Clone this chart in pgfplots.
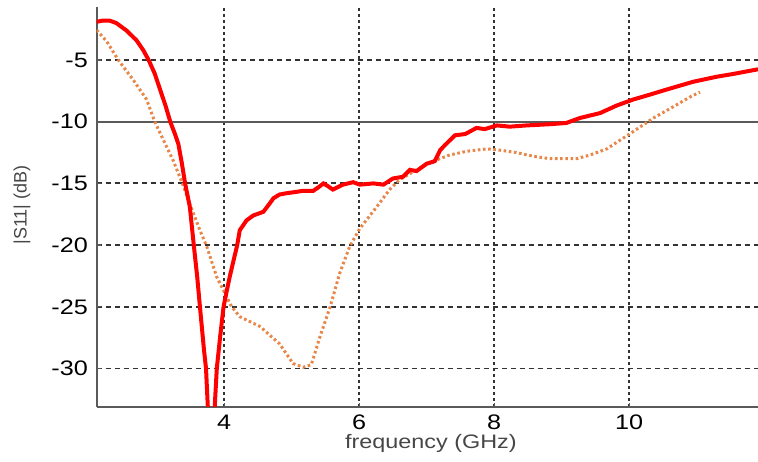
\documentclass[border=0pt]{standalone}
\usepackage{fontspec}
\setmainfont{Liberation Sans}
\newfontfamily\stretched{Liberation Sans}[FakeStretch=1.2]
\usepackage{pgfplots}
\pgfplotsset{compat=1.18}
\definecolor{redline}{RGB}{255,0,0}
\definecolor{orangeline}{RGB}{232,135,74}
\definecolor{axgray}{RGB}{90,90,90}
\definecolor{labgray}{RGB}{70,70,70}
\begin{document}
\begin{tikzpicture}
\useasboundingbox (-96.7pt,-54.3pt) rectangle (661.3pt,406.7pt);
\begin{axis}[at={(0pt,0pt)}, anchor=south west, scale only axis,
  width=661.3pt, height=399.7pt,
  xmin=2.11, xmax=11.91, ymin=-33.1, ymax=-0.7,
  axis x line*=bottom, axis y line*=left,
  axis line style={axgray, line width=2.2pt, -},
  xtick={4,6,8,10}, ytick={-30,-25,-20,-15,-10,-5},
  tick style={axgray, line width=1.2pt}, major tick length=4pt, tick align=inside,
  grid=major,
  x grid style={black!80, line width=1.9pt, dash pattern=on 2.5pt off 3.5pt},
  y grid style={black!80, line width=1.9pt, dash pattern=on 5pt off 4pt},
  /pgf/number format/assume math mode=true,
  ticklabel style={font=\stretched\fontsize{21}{21}\selectfont, text=black},
  xticklabel style={anchor=north, inner sep=0pt, yshift=-8pt},
  yticklabel style={anchor=east, inner sep=0pt, xshift=-8.7pt},
  xlabel={frequency (GHz)},
  xlabel style={font=\stretched\fontsize{19.5}{19.5}\selectfont, text=labgray,
    at={(axis description cs:0.5,0)}, anchor=base, inner sep=0pt, yshift=-42pt, xshift=3.5pt},
  ylabel={|S11| (dB)},
  ylabel style={font=\fontsize{18}{18}\selectfont, text=labgray,
    at={(axis description cs:0,0.5)}, anchor=center, inner sep=0pt, xshift=2pt, yshift=74.7pt},
]
\addplot[axgray, line width=2.2pt] coordinates {(2.11,-10) (11.91,-10)};
\addplot[orangeline, line width=3pt, dash pattern=on 2.6pt off 2.6pt] coordinates {
(2.11,-2.57)(2.26,-3.5)(2.43,-5)(2.65,-6.6)(2.85,-8.2)(2.97,-10)(3.10,-11.5)(3.24,-13.1)
(3.38,-15)(3.50,-16.8)(3.64,-18.8)(3.74,-20.1)(3.89,-22.6)(4.01,-23.9)(4.11,-25)(4.23,-25.8)
(4.53,-26.6)(4.82,-28)(5.02,-29.6)(5.17,-29.9)(5.29,-29.7)(5.42,-27.4)(5.57,-25)(5.71,-22.3)
(5.86,-20.1)(6.01,-18.65)(6.26,-16.9)(6.45,-15.5)(6.60,-14.7)(6.85,-13.9)(7.1,-13.2)(7.34,-12.7)
(7.59,-12.4)(7.89,-12.2)(8.08,-12.3)(8.33,-12.5)(8.58,-12.8)(8.83,-13.0)(9.22,-13.0)(9.42,-12.7)
(9.67,-12.2)(10.06,-10.8)(10.36,-9.7)(10.65,-8.8)(10.90,-8.0)(11.05,-7.6)};
\addplot[redline, line width=4pt] coordinates {
(2.11,-1.9)(2.2,-1.8)(2.3,-1.8)(2.4,-2.0)(2.55,-2.6)(2.70,-3.4)(2.80,-4.2)(2.88,-5.0)
(2.97,-6.1)(3.05,-7.4)(3.13,-8.7)(3.20,-10)(3.27,-11.0)(3.32,-11.8)(3.37,-13.3)(3.42,-15)
(3.49,-16.9)(3.55,-20.06)(3.60,-22.6)(3.64,-25.0)(3.70,-28.5)(3.73,-30)(3.76,-33.5)(3.80,-37)
(3.85,-34)(3.89,-30)(3.94,-27.4)(3.99,-25)(4.04,-23.65)(4.08,-22.6)(4.14,-21.2)(4.19,-20.06)
(4.23,-18.8)(4.33,-18.0)(4.43,-17.6)(4.58,-17.3)(4.65,-16.8)(4.73,-16.2)(4.82,-15.9)(4.92,-15.8)
(5.05,-15.7)(5.17,-15.6)(5.32,-15.6)(5.40,-15.3)(5.47,-15.0)(5.53,-15.2)(5.61,-15.5)(5.76,-15.1)
(5.91,-14.9)(6.01,-15.1)(6.21,-15.0)(6.36,-15.1)(6.50,-14.6)(6.65,-14.46)(6.75,-13.9)(6.85,-14.0)
(7.0,-13.4)(7.12,-13.2)(7.20,-12.3)(7.27,-11.9)(7.42,-11.1)(7.57,-11.0)(7.74,-10.5)(7.86,-10.6)
(8.04,-10.3)(8.23,-10.4)(8.48,-10.3)(8.83,-10.2)(9.07,-10.1)(9.27,-9.7)(9.57,-9.3)(9.81,-8.7)
(10.06,-8.2)(10.31,-7.8)(10.55,-7.4)(10.95,-6.76)(11.30,-6.35)(11.54,-6.13)(11.91,-5.75)};
\end{axis}
\end{tikzpicture}
\end{document}
